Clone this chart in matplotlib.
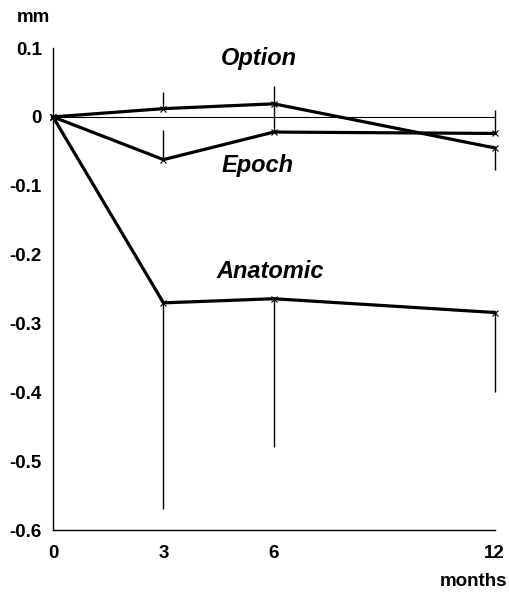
import matplotlib
matplotlib.use("Agg")
import matplotlib.pyplot as plt
import numpy as np

plt.rcParams['font.family'] = ['Liberation Sans', 'DejaVu Sans']

months = [0, 3, 6, 12]

option = [0.0, 0.012, 0.019, -0.045]
option_err_up = [0, 0.024, 0.026, 0]
option_err_dn = [0, 0, 0, 0.032]

epoch = [0.0, -0.062, -0.022, -0.024]
epoch_err_up = [0, 0.043, 0.041, 0.034]

anatomic = [0.0, -0.270, -0.264, -0.284]
anatomic_err_dn = [0, 0.300, 0.216, 0.116]

fig = plt.figure(figsize=(5.10, 5.93), dpi=100)
ax = fig.add_axes([0.104, 0.106, 0.866, 0.813])

# zero reference line
ax.plot([0, 12], [0, 0], color='black', lw=0.8)

lw = 2.3
series = [
    (option, [option_err_dn, option_err_up]),
    (epoch, [np.zeros(4), epoch_err_up]),
    (anatomic, [anatomic_err_dn, np.zeros(4)]),
]
for vals, err in series:
    eb = ax.errorbar(months, vals, yerr=err, color='black', lw=lw, elinewidth=1.0,
                     capsize=0, marker='x', ms=4, mew=0.8)
    for art in eb.get_children():
        art.set_clip_on(False)

txt = dict(fontsize=17, fontweight='bold', fontstyle='italic', ha='center', va='center')
ax.text(5.6, 0.085, 'Option', **txt)
ax.text(5.56, -0.071, 'Epoch', **txt)
ax.text(5.9, -0.224, 'Anatomic', **txt)

ax.set_xlim(0, 12)
ax.set_ylim(-0.6, 0.1)
ax.set_xticks(months)
ax.set_xticklabels(['0', '3', '6', '12'])
ax.set_yticks([0.1, 0, -0.1, -0.2, -0.3, -0.4, -0.5, -0.6])
ax.set_yticklabels(['0.1', '0', '-0.1', '-0.2', '-0.3', '-0.4', '-0.5', '-0.6'])
ax.tick_params(length=0, labelsize=13.5)
ax.tick_params(axis='y', pad=8)
ax.tick_params(axis='x', pad=11)
for lab in ax.get_xticklabels() + ax.get_yticklabels():
    lab.set_fontweight('bold')

for s in ['top', 'right']:
    ax.spines[s].set_visible(False)
for s in ['left', 'bottom']:
    ax.spines[s].set_linewidth(1.0)
ax.patch.set_visible(False)

fig.text(33 / 510, 1 - 18 / 593, 'mm', fontsize=13.5, fontweight='bold', ha='center', va='center')
fig.text(474 / 510, 1 - 581 / 593, 'months', fontsize=13.5, fontweight='bold', ha='center', va='center')

fig.savefig('out.png', dpi=100)
